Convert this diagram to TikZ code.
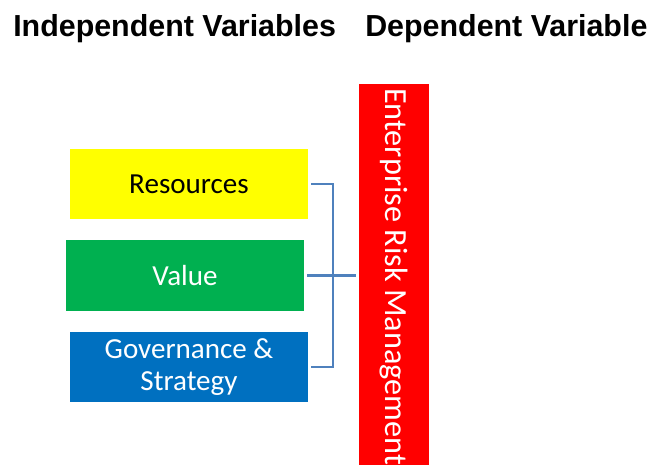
\documentclass[tikz,border=0pt]{standalone}
\usepackage{fontspec}
\setmainfont{Carlito}
\newfontfamily\titlefont{Liberation Sans}
\definecolor{boxyellow}{RGB}{255,255,0}
\definecolor{boxgreen}{RGB}{0,176,80}
\definecolor{boxblue}{RGB}{0,112,192}
\definecolor{boxred}{RGB}{255,0,0}
\definecolor{bracketblue}{RGB}{79,129,189}
\begin{document}
\begin{tikzpicture}[x=0.75pt,y=-0.75pt,
  varbox/.style={draw=none,minimum width=238*0.75pt,minimum height=70*0.75pt,inner sep=0pt,
    font=\fontsize{21.8pt}{24pt}\selectfont,align=center},
  titletext/.style={font=\titlefont\bfseries\fontsize{22.8pt}{26pt}\selectfont,anchor=west,inner sep=0pt},
  bracketline/.style={draw=bracketblue,line width=1.7pt}]
\useasboundingbox (0,0) rectangle (655,464);
\clip (0,0) rectangle (655,464);
\node[titletext] (ti) at (13,29) {Independent Variables};
\node[titletext] (td) at (365,29) {Dependent Variable};
\node[varbox,fill=boxyellow,text=black] (res) at (189,184) {Resources};
\node[varbox,fill=boxgreen,text=white,minimum height=71*0.75pt] (val) at (185,275.5) {Value};
\node[varbox,fill=boxblue,text=white] (gov) at (189,367) {Governance \&\\Strategy};
\node[fill=boxred,text=white,rotate=-90,minimum width=312pt,minimum height=52.5pt,
  inner xsep=3pt,inner ysep=0pt,
  font=\fontsize{24.2pt}{26pt}\selectfont] (erm) at (394,292) {\makebox[306pt][l]{Enterprise Risk Management}};
\draw[bracketline] ([xshift=3*0.75pt]res.east) -- ++(22,0) |- ([xshift=3*0.75pt]gov.east);
\draw[bracketline] ([xshift=3*0.75pt]val.east) -- ([xshift=-3*0.75pt]val.east -| erm.south);
\end{tikzpicture}
\end{document}
